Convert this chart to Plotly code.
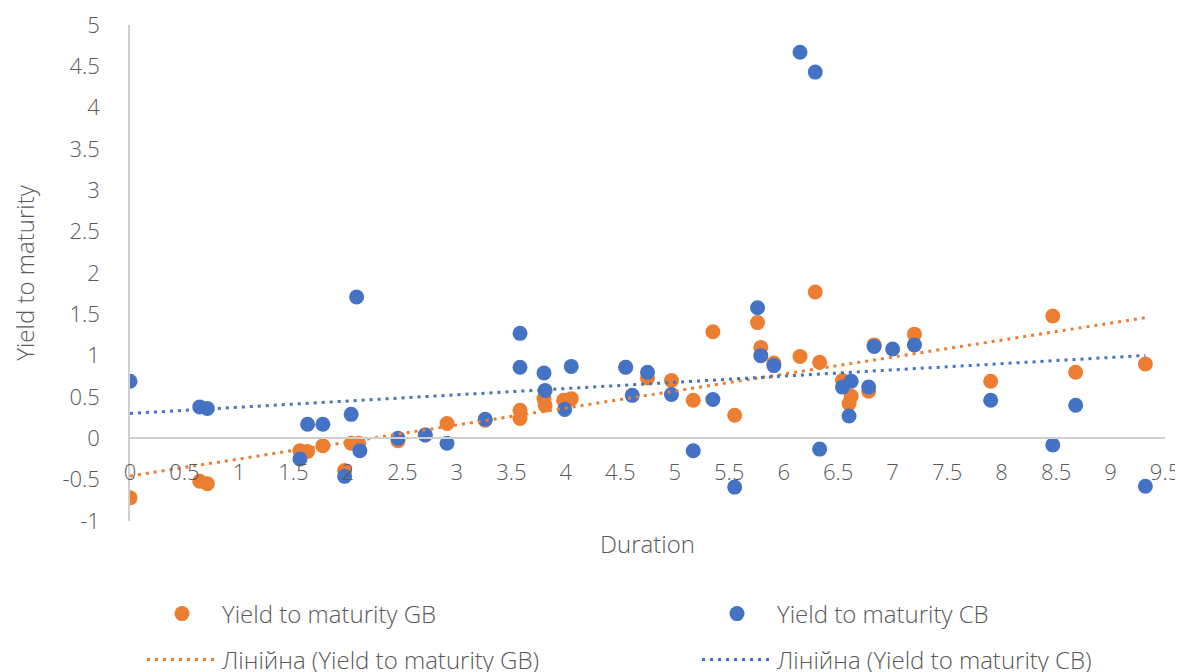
import numpy as np
import plotly.graph_objects as go

# Duration / yield data
gb_duration = [0.0, 0.64, 0.71, 1.56, 1.63, 1.77, 1.97, 2.03, 2.10, 2.46, 2.71, 2.91, 3.26,
               3.58, 3.58, 3.80, 3.81, 3.98, 4.05, 4.55, 4.75, 4.97, 5.17, 5.35, 5.55, 5.76,
               5.79, 5.91, 6.15, 6.29, 6.33, 6.54, 6.60, 6.62, 6.78, 6.83, 7.20, 7.90, 8.47,
               8.68, 9.32]
gb_yield = [-0.72, -0.52, -0.55, -0.15, -0.16, -0.09, -0.39, -0.06, -0.06, -0.03, 0.04, 0.18, 0.22,
            0.34, 0.24, 0.48, 0.40, 0.46, 0.48, 0.86, 0.73, 0.70, 0.46, 1.29, 0.28, 1.40,
            1.10, 0.91, 0.99, 1.77, 0.92, 0.70, 0.42, 0.51, 0.57, 1.13, 1.26, 0.69, 1.48,
            0.80, 0.90]

cb_duration = [0.0, 0.64, 0.71, 1.56, 1.63, 1.77, 1.97, 2.03, 2.08, 2.11, 2.46, 2.71, 2.91,
               3.26, 3.58, 3.58, 3.80, 3.81, 3.99, 4.05, 4.55, 4.61, 4.75, 4.97, 5.17, 5.35,
               5.55, 5.76, 5.79, 5.91, 6.15, 6.29, 6.33, 6.54, 6.60, 6.62, 6.78, 6.83, 7.00,
               7.20, 7.90, 8.47, 8.68, 9.32]
cb_yield = [0.69, 0.38, 0.36, -0.25, 0.17, 0.17, -0.46, 0.29, 1.71, -0.15, 0.00, 0.04, -0.06,
            0.23, 1.27, 0.86, 0.79, 0.58, 0.35, 0.87, 0.86, 0.52, 0.80, 0.53, -0.15, 0.47,
            -0.59, 1.58, 1.00, 0.88, 4.67, 4.43, -0.13, 0.62, 0.27, 0.69, 0.62, 1.11, 1.08,
            1.13, 0.46, -0.08, 0.40, -0.58]

x_tick_vals = [0, 0.5, 1, 1.5, 2, 2.5, 3, 3.5, 4, 4.5, 5, 5.5, 6, 6.5, 7, 7.5, 8, 8.5, 9, 9.5]
x_tick_text = ["0", "0.5", "1", "1.5", "2", "2.5", "3", "3.5", "4", "4.5", "5", "5.5", "6",
               "6.5", "7", "7.5", "8", "8.5", "9", "9.5"]
y_tick_vals = [-1, -0.5, 0, 0.5, 1, 1.5, 2, 2.5, 3, 3.5, 4, 4.5, 5]
y_tick_text = ["-1", "-0.5", "0", "0.5", "1", "1.5", "2", "2.5", "3", "3.5", "4", "4.5", "5"]

ORANGE = "#ED7D31"
BLUE = "#4472C4"
GREY_TXT = "#595959"
FONT = "Open Sans"
PAGE_OFFSET = 8          # default body margin of the html page
W, H = 1183 - PAGE_OFFSET, 672 - PAGE_OFFSET


def trend(xs, ys):
    k, b = np.polyfit(xs, ys, 1)
    x0, x1 = min(xs), max(xs)
    return [x0, x1], [k * x0 + b, k * x1 + b]


fig = go.Figure()
fig.add_trace(go.Scatter(x=gb_duration, y=gb_yield, mode="markers", name="Yield to maturity GB",
                         marker=dict(color=ORANGE, size=15), legend="legend"))
fig.add_trace(go.Scatter(x=cb_duration, y=cb_yield, mode="markers", name="Yield to maturity CB",
                         marker=dict(color=BLUE, size=15), legend="legend2"))
tx, ty = trend(gb_duration, gb_yield)
fig.add_trace(go.Scatter(x=tx, y=ty, mode="lines", name="Лінійна (Yield to maturity GB)",
                         line=dict(color=ORANGE, width=3, dash="3px,5px"), legend="legend3"))
tx, ty = trend(cb_duration, cb_yield)
fig.add_trace(go.Scatter(x=tx, y=ty, mode="lines", name="Лінійна (Yield to maturity CB)",
                         line=dict(color=BLUE, width=3, dash="3px,5px"), legend="legend4"))


def leg(px, py):
    # px, py: page pixel position of the legend entry
    return dict(orientation="h", xref="container", yref="container",
                x=(px - PAGE_OFFSET) / W, y=1 - (py - PAGE_OFFSET) / H,
                xanchor="left", yanchor="middle", itemwidth=70,
                bgcolor="rgba(0,0,0,0)", borderwidth=0,
                font=dict(family=FONT, size=24, color=GREY_TXT, weight=300), itemclick=False)


fig.update_layout(
    width=W, height=H,
    paper_bgcolor="white", plot_bgcolor="white",
    margin=dict(l=122, r=18, t=17, b=151, autoexpand=False),
    font=dict(family=FONT, color=GREY_TXT, weight=300),
    showlegend=True,
    legend=leg(142, 614),
    legend2=leg(697, 614),
    legend3=leg(142, 660),
    legend4=leg(697, 660),
    xaxis=dict(range=[0, 9.5], tickvals=x_tick_vals, ticktext=x_tick_text, automargin=False,
               showgrid=False, zeroline=False, showline=True, linecolor="#d0d0d0", linewidth=1.5,
               anchor="free", position=1/6, ticks="outside", ticklen=15, tickcolor="rgba(0,0,0,0)",
               tickfont=dict(family=FONT, size=22, color=GREY_TXT, weight=300),
               title=dict(text="Duration", font=dict(family=FONT, size=24, color=GREY_TXT, weight=300),
                          standoff=50)),
    yaxis=dict(range=[-1, 5], tickvals=y_tick_vals, ticktext=y_tick_text, domain=[0, 1], automargin=False,
               showgrid=False, zeroline=False, showline=True, linecolor="#d0d0d0", linewidth=1.5,
               ticks="outside", ticklen=24, tickcolor="rgba(0,0,0,0)",
               tickfont=dict(family=FONT, size=22, color=GREY_TXT, weight=300),
               title=dict(text="Yield to maturity", font=dict(family=FONT, size=24, color=GREY_TXT, weight=300),
                          standoff=28)),
)

fig.write_html("out.html")
